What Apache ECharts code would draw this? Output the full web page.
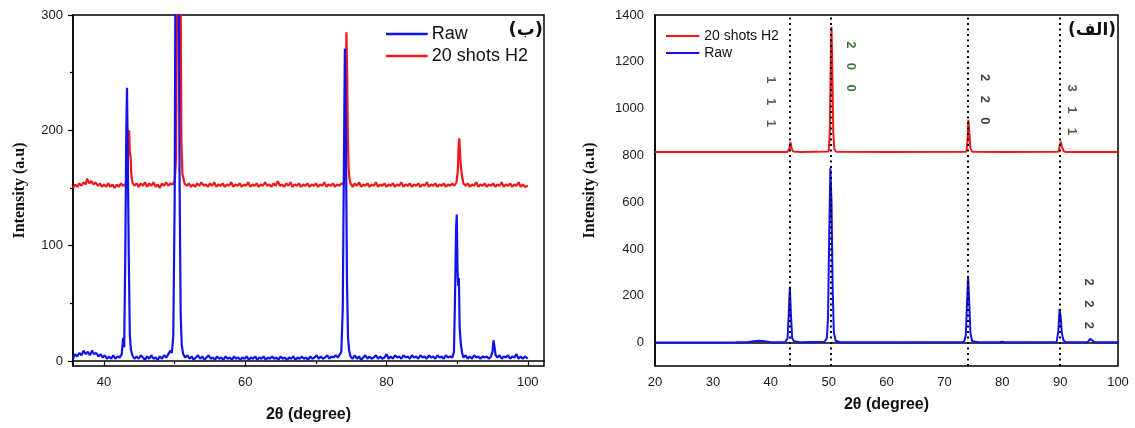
<!DOCTYPE html>
<html>
<head>
<meta charset="utf-8">
<script src="https://cdn.jsdelivr.net/npm/echarts@6/dist/echarts.min.js"></script>
<style>
  html, body { margin: 0; padding: 0; background: #fff; }
  #chart { width: 1135px; height: 428px; }
</style>
</head>
<body>
<div id="chart"></div>
<script>
// XRD patterns, 2θ in degrees vs. intensity (a.u)

// Left panel: zoomed view, raw sample
const rawZoom = [
  [35.6,2],[35.9,6],[36.2,4],[36.5,7],[36.8,5],[37.1,9],[37.4,6],[37.7,8],[38.0,5],[38.3,9],[38.6,6],[38.9,7],
  [39.2,4],[39.5,6],[39.8,3],[40.1,5],[40.4,2],[40.7,4],[41.0,2],[41.3,5],[41.6,2],[41.9,4],[42.2,3],[42.5,6],
  [42.7,20],[42.85,12],[43.0,90],[43.15,200],[43.25,237],[43.35,180],[43.5,90],[43.65,22],[43.8,10],[44.0,5],
  [44.3,2],[44.6,4],[44.9,2],[45.2,5],[45.5,3],[45.8,1],[46.1,4],[46.4,2],[46.7,5],[47.0,2],[47.3,3],[47.6,1],
  [47.9,4],[48.2,2],[48.5,5],[48.8,3],[49.1,6],[49.4,9],[49.6,7],[49.8,22],[50.0,140],[50.15,420],[50.35,540],
  [50.55,380],[50.7,150],[50.85,40],[51.0,14],[51.2,6],[51.5,3],[51.8,5],[52.1,2],[52.4,4],[52.7,1],[53.0,3],
  [53.3,5],[53.6,2],[53.9,4],[54.2,1],[54.5,3],[54.8,5],[55.1,2],[55.4,3],[55.7,1],[56.0,4],[56.3,2],[56.6,3],
  [56.9,1],[57.2,4],[57.5,2],[57.8,3],[58.1,1],[58.4,4],[58.7,2],[59.0,3],[59.3,1],[59.6,3],[59.9,2],[60.2,4],
  [60.5,1],[60.8,3],[61.1,2],[61.4,4],[61.7,1],[62.0,3],[62.3,2],[62.6,4],[62.9,1],[63.2,3],[63.5,2],[63.8,4],
  [64.1,2],[64.4,3],[64.7,1],[65.0,4],[65.3,2],[65.6,3],[65.9,1],[66.2,3],[66.5,2],[66.8,4],[67.1,1],[67.4,3],
  [67.7,2],[68.0,4],[68.3,2],[68.6,3],[68.9,1],[69.2,4],[69.5,2],[69.8,3],[70.1,5],[70.4,2],[70.7,4],[71.0,2],
  [71.3,3],[71.6,5],[71.9,2],[72.2,4],[72.5,3],[72.8,5],[73.1,3],[73.4,6],[73.6,8],[73.8,45],[73.95,160],
  [74.1,271],[74.25,190],[74.4,70],[74.55,20],[74.7,9],[74.9,4],[75.2,2],[75.5,5],[75.8,2],[76.1,4],[76.4,1],
  [76.7,3],[77.0,5],[77.3,2],[77.6,4],[77.9,2],[78.2,3],[78.5,5],[78.8,2],[79.1,4],[79.4,2],[79.7,3],[80.0,6],
  [80.3,2],[80.6,4],[80.9,2],[81.2,5],[81.5,3],[81.8,4],[82.1,2],[82.4,5],[82.7,3],[83.0,4],[83.3,2],[83.6,5],
  [83.9,3],[84.2,4],[84.5,2],[84.8,5],[85.1,3],[85.4,4],[85.7,2],[86.0,5],[86.3,3],[86.6,4],[86.9,2],[87.2,5],
  [87.5,3],[87.8,4],[88.1,2],[88.4,5],[88.7,3],[89.0,4],[89.3,3],[89.55,8],[89.7,55],[89.85,115],[89.95,127],
  [90.05,80],[90.15,65],[90.25,72],[90.35,30],[90.5,16],[90.7,7],[90.9,3],[91.2,5],[91.5,2],[91.8,4],[92.1,2],
  [92.4,5],[92.7,3],[93.0,4],[93.3,2],[93.6,4],[93.9,3],[94.2,4],[94.5,2],[94.8,4],[95.0,8],[95.15,18],
  [95.3,12],[95.45,5],[95.7,3],[96.0,5],[96.3,2],[96.6,4],[96.9,3],[97.2,5],[97.5,2],[97.8,4],[98.1,3],
  [98.4,6],[98.7,2],[99.0,4],[99.3,2],[99.6,4],[100.0,2]
];

// Left panel: zoomed view, after 20 H2 shots
const shotsZoom = [
  [35.6,150],[35.9,153],[36.2,151],[36.5,154],[36.8,152],[37.1,155],[37.4,153],[37.6,158],[37.9,154],[38.2,156],
  [38.5,153],[38.8,155],[39.1,152],[39.4,154],[39.7,151],[40.0,153],[40.3,151],[40.6,154],[40.9,151],[41.2,153],
  [41.5,150],[41.8,153],[42.1,151],[42.4,154],[42.7,152],[43.0,153],[43.2,156],[43.35,168],[43.45,190],
  [43.55,200],[43.65,181],[43.75,178],[43.85,162],[44.0,155],[44.3,152],[44.6,154],[44.9,151],[45.2,154],
  [45.5,152],[45.8,155],[46.1,151],[46.4,154],[46.7,152],[47.0,155],[47.3,151],[47.6,153],[47.9,150],[48.2,154],
  [48.5,152],[48.8,155],[49.1,152],[49.4,154],[49.7,153],[50.0,156],[50.2,175],[50.35,330],[50.5,520],
  [50.65,560],[50.8,380],[50.95,190],[51.1,162],[51.25,158],[51.4,154],[51.7,152],[52.0,154],[52.3,151],
  [52.6,153],[52.9,151],[53.2,154],[53.5,152],[53.8,155],[54.1,152],[54.4,153],[54.7,151],[55.0,154],[55.3,152],
  [55.6,155],[55.9,151],[56.2,153],[56.5,152],[56.8,154],[57.1,151],[57.4,153],[57.7,152],[58.0,155],[58.3,151],
  [58.6,153],[58.9,152],[59.2,154],[59.5,151],[59.8,153],[60.1,152],[60.4,155],[60.7,151],[61.0,153],[61.3,152],
  [61.6,154],[61.9,151],[62.2,153],[62.5,152],[62.8,155],[63.1,152],[63.4,153],[63.7,151],[64.0,154],[64.3,152],
  [64.6,156],[64.9,152],[65.2,153],[65.5,151],[65.8,154],[66.1,152],[66.4,155],[66.7,151],[67.0,153],[67.3,152],
  [67.6,154],[67.9,151],[68.2,153],[68.5,152],[68.8,154],[69.1,151],[69.4,153],[69.7,152],[70.0,154],[70.3,151],
  [70.6,153],[70.9,152],[71.2,155],[71.5,151],[71.8,153],[72.1,152],[72.4,154],[72.7,151],[73.0,153],[73.3,152],
  [73.6,154],[73.9,153],[74.1,160],[74.22,215],[74.32,285],[74.42,250],[74.52,195],[74.62,168],[74.75,158],
  [74.9,154],[75.2,151],[75.5,154],[75.8,152],[76.1,155],[76.4,151],[76.7,153],[77.0,152],[77.3,154],[77.6,151],
  [77.9,153],[78.2,152],[78.5,155],[78.8,151],[79.1,153],[79.4,152],[79.7,154],[80.0,151],[80.3,153],[80.6,152],
  [80.9,154],[81.2,151],[81.5,153],[81.8,152],[82.1,155],[82.4,151],[82.7,153],[83.0,152],[83.3,154],[83.6,151],
  [83.9,153],[84.2,152],[84.5,154],[84.8,151],[85.1,153],[85.4,152],[85.7,155],[86.0,151],[86.3,153],[86.6,152],
  [86.9,154],[87.2,151],[87.5,153],[87.8,152],[88.1,154],[88.4,151],[88.7,153],[89.0,152],[89.3,154],[89.6,152],
  [89.9,155],[90.1,165],[90.2,185],[90.3,193],[90.4,182],[90.5,170],[90.62,164],[90.75,158],[90.9,154],
  [91.2,152],[91.5,154],[91.8,151],[92.1,153],[92.4,152],[92.7,155],[93.0,151],[93.3,153],[93.6,152],[93.9,154],
  [94.2,151],[94.5,153],[94.8,152],[95.1,154],[95.4,151],[95.7,153],[96.0,152],[96.3,155],[96.6,151],[96.9,153],
  [97.2,152],[97.5,154],[97.8,151],[98.1,153],[98.4,152],[98.7,155],[99.0,151],[99.3,153],[99.6,151],[100.0,152]
];

// Right panel: full range, raw sample
const rawFull = [
  [20,0],[25,0],[30,0],[34,1],[36,2],[37,6],[38,8],[39,6],[40,2],[42.5,2],[42.9,18],[43.1,120],[43.3,238],
  [43.5,110],[43.7,20],[44,6],[45,2],[49.3,4],[49.7,20],[49.9,110],[50.1,460],[50.3,745],[50.5,600],[50.7,230],
  [50.9,45],[51.2,8],[52,2],[60,1],[73.4,3],[73.7,30],[73.9,160],[74.1,283],[74.3,170],[74.5,40],[74.8,6],
  [76,2],[79.5,2],[80,4],[80.5,2],[89.4,3],[89.7,50],[89.9,144],[90.1,110],[90.3,40],[90.6,8],[91,2],
  [94.8,3],[95.2,16],[95.5,8],[95.9,2],[100,1]
];

// Right panel: full range, after 20 H2 shots (offset trace)
const shotsFull = [
  [20,815],[30,815],[40,815],[42.9,815],[43.2,828],[43.4,858],[43.6,830],[43.9,817],[45,815],[50.0,817],
  [50.2,900],[50.4,1250],[50.5,1350],[50.65,1150],[50.8,900],[51.0,826],[51.3,816],[60,815],[73.8,816],
  [74.0,860],[74.15,952],[74.3,900],[74.5,830],[74.8,816],[80,815],[89.7,816],[89.9,838],[90.1,858],
  [90.3,838],[90.6,818],[91,815],[100,815]
];

// Reflection positions (dotted guides) and Miller index labels
const reflections = [43.3, 50.4, 74.1, 90.0];
const hklText = ['1    1    1', '2    0    0', '2    2    0', '3    1    1', '2    2    2'];
const hklX = [40.0, 53.8, 77.0, 92.0, 95.0];
const hklY = [1030, 1180, 1040, 995, 166];
const hklColor = ['#174a17', '#174a17', '#111111', '#143a14', '#111111'];

// Axis ticks
const leftXLabels = [40, 60, 80, 100];
const leftXMinor = [50, 70, 90];
const leftYLabels = [0, 100, 200, 300];
const leftYMinor = [50, 150, 250];
const rightYLabels = [0, 200, 400, 600, 800, 1000, 1200, 1400];

const seriesNames = ['Raw', '20 shots H2'];
const BLUE = '#1212f0';
const RED = '#f01818';

const plainNumber = v => String(v);
const tickLabel = { color: '#1a1a1a', fontSize: 13, fontFamily: 'Liberation Sans, Arial, sans-serif', formatter: plainNumber };
const xTitle = { fontFamily: 'Liberation Sans, Arial, sans-serif', fontWeight: 'bold', fontSize: 16, color: '#111' };
const yTitle = { fontFamily: 'Liberation Serif, Times New Roman, serif', fontWeight: 'bold', fontSize: 16, color: '#111' };
const axisLine = { show: true, lineStyle: { color: '#000', width: 1.5 } };
const legendLine = 'path://M0,0 L100,0 L100,6 L0,6 Z';

const chart = echarts.init(document.getElementById('chart'), null, { renderer: 'canvas' });

const option = {
  animation: false,
  backgroundColor: '#fff',
  grid: [
    { left: 73, top: 15, right: 591, bottom: 62, show: true, borderColor: '#000', borderWidth: 1.5, backgroundColor: 'transparent', outerBoundsMode: 'none' },
    { left: 655, top: 15, right: 17, bottom: 62, show: true, borderColor: '#000', borderWidth: 1.5, backgroundColor: 'transparent', outerBoundsMode: 'none' }
  ],
  xAxis: [
    {
      type: 'value', gridIndex: 0, min: 35.6, max: 102.3,
      splitLine: { show: false }, axisLine: axisLine,
      axisTick: { show: true, inside: false, length: 5, lineStyle: { color: '#000', width: 1.2 }, customValues: leftXLabels },
      axisLabel: { ...tickLabel, margin: 10, customValues: leftXLabels },
      name: '2θ (degree)', nameLocation: 'middle', nameGap: 41, nameTextStyle: xTitle
    },
    {
      type: 'value', gridIndex: 0, min: 35.6, max: 102.3, position: 'bottom',
      splitLine: { show: false }, axisLine: { show: false },
      axisTick: { show: true, length: 3, lineStyle: { color: '#000', width: 1.2 }, customValues: leftXMinor },
      axisLabel: { show: false }
    },
    {
      type: 'value', gridIndex: 1, min: 20, max: 100, interval: 10,
      splitLine: { show: false }, axisLine: axisLine,
      axisTick: { show: false },
      axisLabel: { ...tickLabel, margin: 10 },
      name: '2θ (degree)', nameLocation: 'middle', nameGap: 31, nameTextStyle: xTitle
    }
  ],
  yAxis: [
    {
      type: 'value', gridIndex: 0, min: -4.3, max: 300,
      splitLine: { show: false }, axisLine: axisLine,
      axisTick: { show: true, length: 5, lineStyle: { color: '#000', width: 1.2 }, customValues: leftYLabels },
      axisLabel: { ...tickLabel, margin: 10, customValues: leftYLabels },
      name: 'Intensity (a.u)', nameLocation: 'middle', nameGap: 45, nameTextStyle: yTitle
    },
    {
      type: 'value', gridIndex: 0, min: -4.3, max: 300, position: 'left',
      splitLine: { show: false }, axisLine: { show: false },
      axisTick: { show: true, length: 3, lineStyle: { color: '#000', width: 1.2 }, customValues: leftYMinor },
      axisLabel: { show: false }
    },
    {
      type: 'value', gridIndex: 1, min: -100, max: 1400,
      splitLine: { show: false }, axisLine: axisLine,
      axisTick: { show: false },
      axisLabel: { ...tickLabel, margin: 11, customValues: rightYLabels },
      name: 'Intensity (a.u)', nameLocation: 'middle', nameGap: 57, nameTextStyle: yTitle
    }
  ],
  legend: [
    {
      left: 381, top: 20, orient: 'vertical', icon: legendLine, itemWidth: 46, itemHeight: 2.5, itemGap: 4,
      data: [seriesNames[0], seriesNames[1]],
      textStyle: { fontSize: 18, color: '#111', fontFamily: 'Liberation Sans, Arial, sans-serif', padding: [0, 0, 0, -3] },
      selectedMode: false
    },
    {
      left: 661, top: 24, orient: 'vertical', icon: legendLine, itemWidth: 37, itemHeight: 2, itemGap: 3,
      data: [seriesNames[1], seriesNames[0]],
      textStyle: { fontSize: 14, color: '#111', fontFamily: 'Liberation Sans, Arial, sans-serif', padding: [0, 0, 0, -2] },
      selectedMode: false
    }
  ],
  graphic: [
    { type: 'text', right: 592, top: 21, style: { text: '(ب)', font: 'bold 18px "DejaVu Sans", sans-serif', fill: '#111' } },
    { type: 'text', right: 19, top: 22, style: { text: '(الف)', font: 'bold 17px "DejaVu Sans", sans-serif', fill: '#111' } }
  ],
  series: [
    {
      name: seriesNames[1], type: 'line', xAxisIndex: 0, yAxisIndex: 0, data: shotsZoom,
      symbol: 'none', clip: true, lineStyle: { color: RED, width: 2.2 }, itemStyle: { color: RED }
    },
    {
      name: seriesNames[0], type: 'line', xAxisIndex: 0, yAxisIndex: 0, data: rawZoom,
      symbol: 'none', clip: true, lineStyle: { color: BLUE, width: 2.2 }, itemStyle: { color: BLUE }
    },
    {
      name: seriesNames[1], type: 'line', xAxisIndex: 2, yAxisIndex: 2, data: shotsFull,
      symbol: 'none', clip: true, lineStyle: { color: RED, width: 2 }, itemStyle: { color: RED },
      markLine: {
        silent: true, symbol: 'none', label: { show: false },
        lineStyle: { color: '#000', type: [2, 3.5], width: 2 },
        data: reflections.map(v => ({ xAxis: v }))
      }
    },
    {
      name: seriesNames[0], type: 'line', xAxisIndex: 2, yAxisIndex: 2, data: rawFull,
      symbol: 'none', clip: true, lineStyle: { color: BLUE, width: 2 }, itemStyle: { color: BLUE }
    },
    {
      name: 'hkl', type: 'scatter', xAxisIndex: 2, yAxisIndex: 2, symbolSize: 0, silent: true,
      data: hklText.map((t, i) => ({
        value: [hklX[i], hklY[i]], name: t,
        label: { color: hklColor[i] }
      })),
      label: {
        show: true, position: 'inside', rotate: -90, formatter: p => p.name,
        fontSize: 13, fontWeight: 'bold', fontFamily: 'Liberation Sans, Arial, sans-serif'
      }
    }
  ]
};

chart.setOption(option);
</script>
</body>
</html>
